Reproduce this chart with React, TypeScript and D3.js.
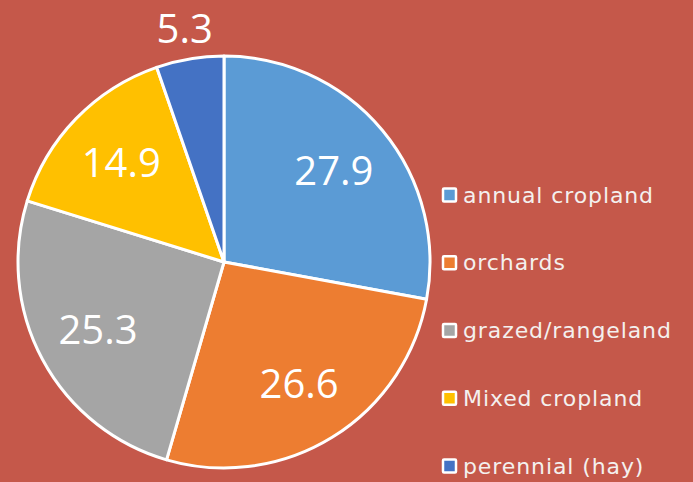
import React from "react";
import * as d3 from "d3";

const categories = ["annual cropland", "orchards", "grazed/rangeland", "Mixed cropland", "perennial (hay)"];
const values = [27.9, 26.6, 25.3, 14.9, 5.3];
const colors = ["#5B9BD5", "#ED7D31", "#A5A5A5", "#FFC000", "#4472C4"];

const W = 693;
const H = 482;
const cx = 224;
const cy = 262;
const R = 206;

export default function App() {
  const pie = d3.pie<number>().value((d) => d).sort(null);
  const arcs = pie(values);
  const arc = d3.arc<d3.PieArcDatum<number>>().innerRadius(0).outerRadius(R);
  const labelArc = d3.arc<d3.PieArcDatum<number>>().innerRadius(143 * 2 - R).outerRadius(R);
  const outerArc = d3.arc<d3.PieArcDatum<number>>().innerRadius(237).outerRadius(237);

  const legendY = d3.scalePoint<string>().domain(categories).range([195, 466]);

  return (
    <svg
      width={W}
      height={H}
      style={{ position: "absolute", left: 0, top: 0, display: "block" }}
    >
      <rect x={0} y={0} width={W} height={H} fill="#C5584A" />
      <g transform={`translate(${cx},${cy})`}>
        {arcs.map((a, i) => (
          <path key={i} d={arc(a) || ""} fill={colors[i]} stroke="#fff" strokeWidth={3} strokeLinejoin="round" />
        ))}
        {arcs.map((a, i) => {
          const [x, y] = i === 4 ? outerArc.centroid(a) : labelArc.centroid(a);
          return (
            <text
              key={i}
              x={x}
              y={y}
              dy="0.36em"
              textAnchor="middle"
              fill="#fff"
              fontFamily="'Open Sans', sans-serif"
              fontSize={40}
            >
              {values[i].toFixed(1)}
            </text>
          );
        })}
      </g>
      <g>
        {categories.map((c, i) => {
          const y = legendY(c) as number;
          return (
            <g key={c}>
              <rect x={443} y={y - 6.5} width={13} height={13} fill={colors[i]} stroke="#fff" strokeWidth={2.5} rx={1} />
              <text
                x={463}
                y={y}
                dy="0.35em"
                fill="#F4F0EE"
                fontFamily="'DejaVu Sans', sans-serif"
                fontSize={22}
                letterSpacing={0.9}
              >
                {c}
              </text>
            </g>
          );
        })}
      </g>
    </svg>
  );
}
